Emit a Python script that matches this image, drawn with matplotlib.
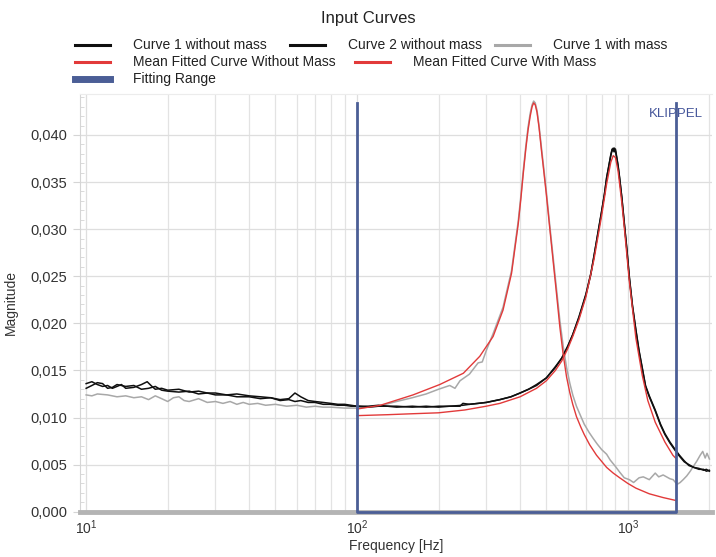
import matplotlib
matplotlib.use("Agg")
import matplotlib.pyplot as plt
from matplotlib.lines import Line2D
from matplotlib.ticker import FixedLocator, MultipleLocator, FuncFormatter, NullFormatter

plt.rcParams['font.family'] = ['Liberation Sans', 'DejaVu Sans']
plt.rcParams['mathtext.fontset'] = 'custom'
plt.rcParams['mathtext.rm'] = 'Liberation Sans'

# ---------------- data ----------------
c1_freq = [10, 10.5, 11, 11.5, 12, 12.5, 13, 13.5, 14, 15, 16, 16.8, 17.5, 18, 19, 20, 22, 24, 26, 28,
           30, 33, 36, 40, 44, 48, 52, 56, 59, 62, 66, 70, 75, 80, 85, 90, 95, 100, 110, 120, 140,
           160, 180, 200, 220, 246, 260, 280, 300, 337, 370, 400, 430, 460, 500, 540, 570, 600, 626,
           660, 700, 730, 750, 775, 800, 820, 835, 850, 865, 875, 883, 890, 900, 908, 920, 933, 950,
           973, 990, 1013, 1040, 1071, 1100, 1130, 1162, 1200, 1262, 1320, 1370, 1430, 1487, 1550,
           1615, 1680, 1753, 1830, 1903, 1950, 2000]
c1_mag = [0.0136, 0.0138, 0.0135, 0.0133, 0.0134, 0.0131, 0.0133, 0.0135, 0.0131, 0.0132, 0.0135,
          0.0138, 0.0133, 0.0130, 0.0131, 0.0129, 0.0130, 0.0127, 0.0128, 0.0126, 0.0126, 0.0124,
          0.0125, 0.0123, 0.0122, 0.0121, 0.0119, 0.0120, 0.0126, 0.0122, 0.0118, 0.0117, 0.0116,
          0.0115, 0.0114, 0.0114, 0.0113, 0.0112, 0.0112, 0.0113, 0.0111, 0.0112, 0.0111, 0.0112,
          0.0112, 0.0113, 0.0114, 0.0115, 0.0116, 0.0119, 0.0122, 0.0126, 0.0130, 0.0134, 0.0142,
          0.0153, 0.0163, 0.0175, 0.0188, 0.0206, 0.0230, 0.0252, 0.0272, 0.0295, 0.0318, 0.0338,
          0.0354, 0.0367, 0.0378, 0.0384, 0.0386, 0.0382, 0.0385, 0.0378, 0.0368, 0.0354, 0.0333,
          0.0302, 0.0280, 0.0248, 0.0218, 0.0192, 0.0170, 0.0152, 0.0133, 0.0122, 0.0107, 0.0092,
          0.0082, 0.0073, 0.0066, 0.0059, 0.0053, 0.0050, 0.0047, 0.0046, 0.0044, 0.0045, 0.0043]

c2_freq = [10, 10.5, 11, 11.5, 12, 12.5, 13, 14, 15, 16, 17, 18, 19, 20, 22, 24, 26, 28, 30, 33, 36,
           40, 44, 48, 52, 56, 59, 62, 66, 70, 75, 80, 85, 90, 95, 100, 110, 120, 140, 160, 180, 200,
           220, 240, 246, 260, 280, 300, 337, 370, 400, 430, 460, 500, 540, 570, 600, 626, 660, 700,
           730, 750, 775, 800, 820, 835, 850, 865, 875, 883, 892, 900, 908, 920, 933, 950, 973, 990,
           1013, 1040, 1071, 1100, 1130, 1162, 1200, 1262, 1320, 1370, 1430, 1487, 1550, 1615, 1680,
           1753, 1830, 1903, 1950, 2000]
c2_mag = [0.0131, 0.0134, 0.0137, 0.0136, 0.0131, 0.0132, 0.0135, 0.0133, 0.0134, 0.0130, 0.0131,
          0.0133, 0.0129, 0.0128, 0.0127, 0.0128, 0.0125, 0.0126, 0.0124, 0.0124, 0.0122, 0.0122,
          0.0120, 0.0121, 0.0118, 0.0119, 0.0117, 0.0118, 0.0116, 0.0116, 0.0114, 0.0114, 0.0113,
          0.0113, 0.0112, 0.0112, 0.0111, 0.0112, 0.0112, 0.0111, 0.0112, 0.0111, 0.0112, 0.0112,
          0.0115, 0.0114, 0.0115, 0.0116, 0.0119, 0.0122, 0.0126, 0.0130, 0.0135, 0.0142, 0.0154,
          0.0163, 0.0176, 0.0188, 0.0207, 0.0231, 0.0253, 0.0271, 0.0296, 0.0319, 0.0337, 0.0355,
          0.0366, 0.0379, 0.0385, 0.0383, 0.0386, 0.0383, 0.0377, 0.0367, 0.0353, 0.0334, 0.0303,
          0.0281, 0.0249, 0.0219, 0.0193, 0.0171, 0.0153, 0.0134, 0.0123, 0.0108, 0.0093, 0.0083,
          0.0074, 0.0067, 0.0060, 0.0054, 0.0049, 0.0047, 0.0045, 0.0045, 0.0043, 0.0044]

c3_freq = [10, 10.5, 11, 12, 13, 14, 15, 16, 17, 18, 19, 20, 21, 22, 23, 24, 26, 28, 30, 32, 34,
           36, 38, 40, 43, 46, 50, 55, 60, 65, 70, 75, 80, 90, 100, 120, 140, 160, 180, 200, 220,
           230, 240, 260, 280, 290, 301, 318, 346, 372, 394, 403, 411, 420, 428, 436, 443, 449, 455,
           462, 470, 480, 490, 500, 514, 529, 545, 561, 577, 594, 611, 626, 646, 664, 690, 720, 744,
           770, 800, 835, 860, 900, 933, 970, 1013, 1050, 1100, 1140, 1200, 1262, 1300, 1350, 1430,
           1470, 1520, 1560, 1600, 1650, 1700, 1735, 1800, 1850, 1890, 1930, 1960, 2000]
c3_mag = [0.0124, 0.0123, 0.0125, 0.0124, 0.0122, 0.0123, 0.0121, 0.0122, 0.0119, 0.0123, 0.0120,
          0.0117, 0.0121, 0.0122, 0.0118, 0.0117, 0.0120, 0.0116, 0.0117, 0.0115, 0.0117, 0.0114,
          0.0116, 0.0114, 0.0115, 0.0113, 0.0114, 0.0112, 0.0113, 0.0111, 0.0112, 0.0111, 0.0111,
          0.0110, 0.0110, 0.0112, 0.0117, 0.0121, 0.0125, 0.0130, 0.0134, 0.0131, 0.0139, 0.0146,
          0.0158, 0.0159, 0.0172, 0.0189, 0.0217, 0.0256, 0.0309, 0.0336, 0.0362, 0.0388, 0.0408,
          0.0423, 0.0432, 0.0436, 0.0434, 0.0426, 0.0410, 0.0386, 0.0363, 0.0340, 0.0306, 0.0272,
          0.0237, 0.0203, 0.0176, 0.0153, 0.0136, 0.0124, 0.0112, 0.0104, 0.0093, 0.0084, 0.0078,
          0.0072, 0.0066, 0.0061, 0.0055, 0.0048, 0.0042, 0.0036, 0.0034, 0.0031, 0.0036, 0.0037,
          0.0034, 0.0041, 0.0037, 0.0039, 0.0035, 0.0034, 0.0029, 0.0031, 0.0034, 0.0038, 0.0043,
          0.0047, 0.0054, 0.0060, 0.0064, 0.0057, 0.0062, 0.0056]

fit0_freq = [100, 130, 160, 200, 250, 300, 337, 400, 460, 500, 540, 570, 600, 626, 660, 700, 750,
             800, 835, 865, 883, 900, 920, 950, 973, 1013, 1071, 1130, 1185, 1262, 1370, 1466, 1500]
fit0_mag = [0.0102, 0.0103, 0.0104, 0.0105, 0.0108, 0.0112, 0.0115, 0.0122, 0.0131, 0.0139, 0.0150,
            0.0160, 0.0173, 0.0186, 0.0204, 0.0228, 0.0268, 0.0314, 0.0348, 0.0371, 0.0378, 0.0376,
            0.0362, 0.0328, 0.0298, 0.0244, 0.0184, 0.0145, 0.0118, 0.0095, 0.0074, 0.0060, 0.0057]

fit1_freq = [100, 122, 161, 202, 247, 284, 318, 346, 372, 394, 403, 411, 420, 428, 436, 443, 449,
             455, 462, 470, 480, 490, 500, 514, 529, 545, 561, 577, 594, 611, 626, 646, 670, 690,
             723, 766, 835, 883, 933, 1000, 1071, 1200, 1350, 1500]
fit1_mag = [0.0109, 0.0113, 0.0124, 0.0135, 0.0147, 0.0165, 0.0186, 0.0214, 0.0253, 0.0306, 0.0333,
            0.0359, 0.0385, 0.0405, 0.0420, 0.0430, 0.0434, 0.0432, 0.0424, 0.0408, 0.0383, 0.0360,
            0.0337, 0.0303, 0.0268, 0.0232, 0.0196, 0.0167, 0.0143, 0.0126, 0.0114, 0.0101, 0.0090,
            0.0082, 0.0071, 0.0060, 0.0047, 0.0041, 0.0036, 0.0030, 0.0025, 0.0019, 0.0015, 0.0012]

fit_range = [100, 1500]
fit_top = 0.0434

x_ticks = [10, 100, 1000]
x_tick_labels = ['$10^{1}$', '$10^{2}$', '$10^{3}$']
y_ticks = [0.000, 0.005, 0.010, 0.015, 0.020, 0.025, 0.030, 0.035, 0.040]

# ---------------- figure ----------------
W, H = 716, 557
fig = plt.figure(figsize=(W / 100, H / 100), dpi=100)

def fx(x):
    return x / W

def fy(y):
    return 1 - y / H

left, right, top, bottom = 79.5, 712, 93.5, 511.7
ax = fig.add_axes([fx(left), fy(bottom), fx(right) - fx(left), fy(top) - fy(bottom)])

ax.set_xscale('log')
ax.set_xlim(9.45, 2045)
ax.set_ylim(0, 0.0444)

BLACK = '#101010'
GRAY = '#a8a8a8'
RED = '#e23a3a'
BLUE = '#4b5e96'

ax.plot(c3_freq, c3_mag, color=GRAY, lw=1.1, zorder=3)
ax.plot(c1_freq, c1_mag, color=BLACK, lw=1.1, zorder=4)
ax.plot(c2_freq, c2_mag, color=BLACK, lw=1.1, zorder=4)
ax.plot(fit0_freq, fit0_mag, color=RED, lw=1.0, zorder=5)
ax.plot(fit1_freq, fit1_mag, color=RED, lw=1.0, zorder=5)
ax.plot([fit_range[0], fit_range[0], fit_range[1], fit_range[1]],
        [fit_top, 0, 0, fit_top], color=BLUE, lw=2.0, zorder=6, clip_on=False)

# grids
ax.xaxis.set_major_locator(FixedLocator(x_ticks))
ax.xaxis.set_minor_locator(FixedLocator([m * d for d in (10, 100, 1000) for m in range(2, 10) if m * d <= 2045]))
ax.set_xticklabels(x_tick_labels)
ax.xaxis.set_minor_formatter(NullFormatter())
ax.yaxis.set_major_locator(FixedLocator(y_ticks))
ax.yaxis.set_minor_locator(MultipleLocator(0.001))
ax.yaxis.set_major_formatter(FuncFormatter(lambda v, p: f"{v:.3f}".replace('.', ',')))

ax.grid(True, which='major', axis='both', color='#dedede', lw=0.9, zorder=0)
ax.grid(True, which='minor', axis='x', color='#e3e3e3', lw=0.9, zorder=0)

ax.tick_params(axis='x', which='both', length=0, pad=5, labelsize=10, labelcolor='#333333')
ax.tick_params(axis='y', which='major', length=5, color='#d5d5d5', direction='out', pad=4,
               labelsize=10.5, labelcolor='#333333')
ax.tick_params(axis='y', which='minor', length=3, color='#d5d5d5', direction='in')

ax.spines['right'].set_visible(False)
ax.spines['top'].set_color('#ececec')
ax.spines['left'].set_color('#d5d5d5')
ax.spines['bottom'].set_color('#b4b4b4')
ax.spines['bottom'].set_linewidth(3.5)
ax.set_axisbelow(True)

ax.set_xlabel('Frequency [Hz]', fontsize=10, color='#333333')
ax.xaxis.set_label_coords(0.5, (bottom - 539) / (bottom - top))
ax.set_ylabel('Magnitude', fontsize=10, color='#333333')
ax.yaxis.set_label_coords((18 - left) / (right - left), 0.5)

ax.text(0.985, 0.965, 'KLIPPEL', transform=ax.transAxes, ha='right', va='top',
        fontsize=9.5, color='#44559a')

# title
fig.text(fx(368), fy(18), 'Input Curves', ha='center', va='center', fontsize=12, color='#222222')

# legend (custom, figure coordinates)
legend_items = [
    (75, 45, BLACK, 2.2, 'Curve 1 without mass'),
    (290, 45, BLACK, 2.2, 'Curve 2 without mass'),
    (495, 45, GRAY, 2.2, 'Curve 1 with mass'),
    (75, 62, RED, 2.2, 'Mean Fitted Curve Without Mass'),
    (355, 62, RED, 2.2, 'Mean Fitted Curve With Mass'),
    (75, 79, BLUE, 5.0, 'Fitting Range'),
]
for x0, y0, col, lw, lab in legend_items:
    fig.add_artist(Line2D([fx(x0), fx(x0 + 35)], [fy(y0), fy(y0)], color=col, lw=lw,
                          transform=fig.transFigure))
    fig.text(fx(x0 + 58), fy(y0), lab, ha='left', va='center', fontsize=10, color='#222222')

fig.savefig('out.png', dpi=100)
